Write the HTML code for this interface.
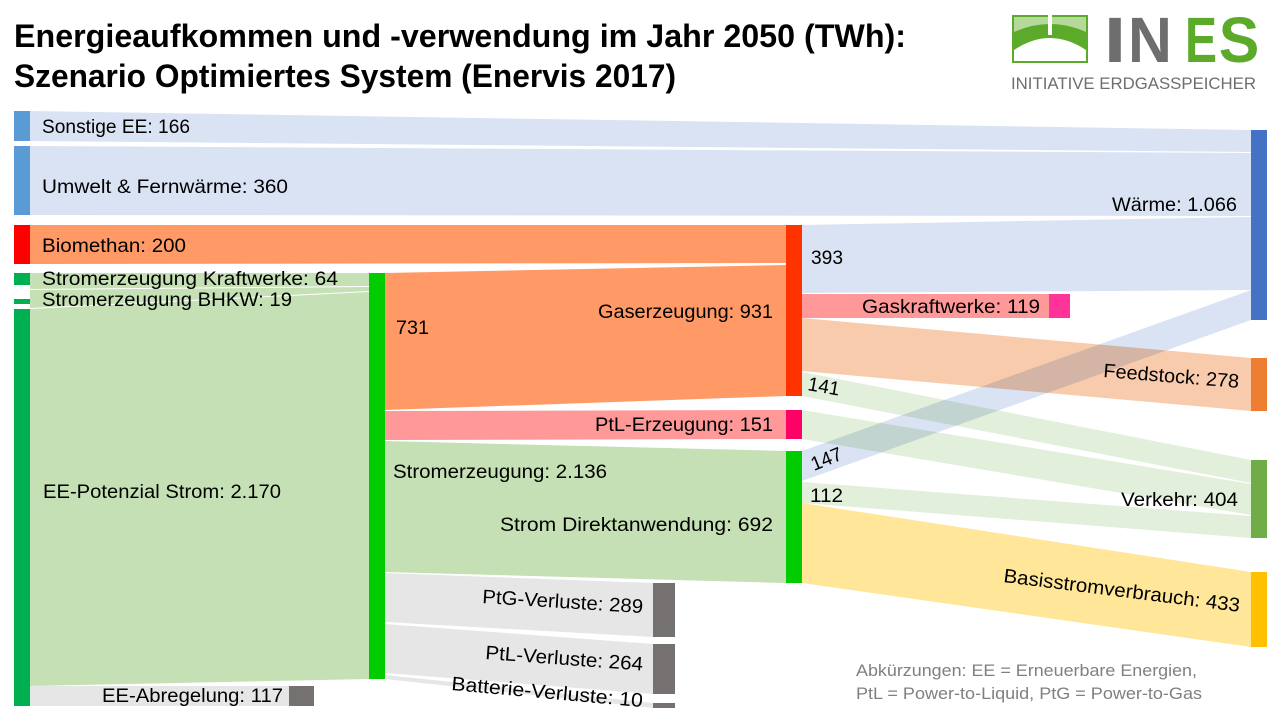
<!DOCTYPE html>
<html>
<head>
<meta charset="utf-8">
<style>
  html, body { margin:0; padding:0; background:#ffffff; }
  body { width:1280px; height:720px; overflow:hidden; }
  svg { display:block; }
  text { font-family:"Liberation Sans", "DejaVu Sans", sans-serif; }
</style>
</head>
<body>
<svg width="1280" height="720" viewBox="0 0 1280 720" xmlns="http://www.w3.org/2000/svg">
  <rect x="0" y="0" width="1280" height="720" fill="#ffffff"/>

  <!-- Title -->
  <text x="14" y="47" font-size="32" font-weight="bold" fill="#000" textLength="892" lengthAdjust="spacingAndGlyphs">Energieaufkommen und -verwendung im Jahr 2050 (TWh):</text>
  <text x="14" y="87" font-size="32" font-weight="bold" fill="#000" textLength="662" lengthAdjust="spacingAndGlyphs">Szenario Optimiertes System (Enervis 2017)</text>

  <!-- Logo -->
  <g>
    <rect x="1013" y="16" width="74" height="46" fill="#ffffff" stroke="#5BAA2A" stroke-width="2"/>
    <rect x="1014" y="17" width="72" height="20" fill="#B5D99A"/>
    <path d="M1014,32 Q1050,16 1086,32 L1086,50 Q1050,26 1014,50 Z" fill="#5BAA2A"/>
    <rect x="1048" y="15" width="4" height="20" fill="#ffffff"/>
    <text transform="translate(1115,62) scale(1.25,1)" text-anchor="middle" font-size="64" font-weight="bold" fill="#6E6E6E">I</text>
    <text transform="translate(1150,62) scale(0.95,1)" text-anchor="middle" font-size="64" font-weight="bold" fill="#6E6E6E">N</text>
    <text transform="translate(1201,62) scale(0.75,1)" text-anchor="middle" font-size="64" font-weight="bold" fill="#5BAA2A">E</text>
    <text transform="translate(1239,62) scale(0.95,1)" text-anchor="middle" font-size="64" font-weight="bold" fill="#5BAA2A">S</text>
    <text x="1011" y="89" font-size="17" fill="#6E6E6E" textLength="245" lengthAdjust="spacingAndGlyphs">INITIATIVE ERDGASSPEICHER</text>
  </g>

  <!-- Flows -->
  <!-- blue heat flows -->
  <path d="M30,111 L1251,130 L1251,152 L30,141 Z" fill="#DAE3F3"/>
  <path d="M30,146 L1251,153 L1251,216 L30,215 Z" fill="#DAE3F3"/>
  <path d="M802,225 L1251,217 L1251,290 L802,293 Z" fill="#DAE3F3"/>

  <!-- orange gas flows -->
  <path d="M30,225 L786,225 L786,263 L30,264 Z" fill="#FF9966"/>
  <path d="M385,273 L786,265 L786,396 L385,410 Z" fill="#FF9966"/>

  <!-- light green power flows -->
  <path d="M30,273 L369,273 L369,286 L30,289 Z" fill="#C5E0B4"/>
  <path d="M30,290 L369,287 L369,291 L30,308 Z" fill="#C5E0B4"/>
  <path d="M30,309 L369,292 L369,679 L30,686 Z" fill="#C5E0B4"/>
  <path d="M385,441 L786,451 L786,583 L385,572 Z" fill="#C5E0B4"/>

  <!-- grey losses -->
  <path d="M30,686 L289,686 L289,706 L30,706 Z" fill="#E7E6E6"/>
  <path d="M385,573 L653,583 L653,637 L385,622 Z" fill="#E7E6E6"/>
  <path d="M385,624 L653,644 L653,694 L385,673 Z" fill="#E7E6E6"/>
  <path d="M385,675 L653,703 L653,708 L385,679 Z" fill="#E7E6E6"/>

  <!-- pink flows -->
  <path d="M385,411 L786,410 L786,439 L385,440 Z" fill="#FF9999"/>
  <path d="M802,294 L1049,294 L1049,318 L802,318 Z" fill="#FF9999"/>

  <!-- feedstock -->
  <path d="M802,318 L1251,358 L1251,411 L802,371 Z" fill="#F8CBAD"/>

  <!-- transport (pale green) -->
  <path d="M802,372 L1251,460 L1251,483 L802,396 Z" fill="#E2EFDA"/>
  <path d="M802,410 L1251,484 L1251,515 L802,439 Z" fill="#E2EFDA"/>
  <path d="M802,482 L1251,516 L1251,538 L802,503 Z" fill="#E2EFDA"/>

  <!-- base power -->
  <path d="M802,503 L1251,572 L1251,647 L802,583 Z" fill="#FFE699"/>

  <!-- 147 power-to-heat crossing band -->
  <path d="M802,451 L1251,290 L1251,320 L802,481 Z" fill="#DAE3F3" style="mix-blend-mode:multiply"/>

  <!-- Nodes / bars -->
  <rect x="14" y="111" width="16" height="30" fill="#5B9BD5"/>
  <rect x="14" y="146" width="16" height="69" fill="#5B9BD5"/>
  <rect x="14" y="225" width="16" height="39" fill="#FF0000"/>
  <rect x="14" y="273" width="16" height="12" fill="#00B050"/>
  <rect x="14" y="299" width="16" height="5" fill="#00B050"/>
  <rect x="14" y="309" width="16" height="397" fill="#00B050"/>
  <rect x="289" y="686" width="25" height="20" fill="#767171"/>
  <rect x="369" y="273" width="16" height="406" fill="#00CC00"/>
  <rect x="786" y="225" width="16" height="171" fill="#FF3300"/>
  <rect x="786" y="410" width="16" height="29" fill="#FF0066"/>
  <rect x="786" y="451" width="16" height="132" fill="#00CC00"/>
  <rect x="653" y="583" width="22" height="54" fill="#767171"/>
  <rect x="653" y="644" width="22" height="50" fill="#767171"/>
  <rect x="653" y="703" width="22" height="5" fill="#767171"/>
  <rect x="1049" y="294" width="21" height="24" fill="#FF3399"/>
  <rect x="1251" y="130" width="16" height="190" fill="#4472C4"/>
  <rect x="1251" y="358" width="16" height="53" fill="#ED7D31"/>
  <rect x="1251" y="460" width="16" height="78" fill="#70AD47"/>
  <rect x="1251" y="572" width="16" height="75" fill="#FFC000"/>

  <!-- Labels -->
  <g font-size="19.5" fill="#000">
    <text x="42" y="133" textLength="148" lengthAdjust="spacingAndGlyphs">Sonstige EE: 166</text>
    <text x="42" y="193" textLength="246" lengthAdjust="spacingAndGlyphs">Umwelt &amp; Fernwärme: 360</text>
    <text x="42" y="252" textLength="144" lengthAdjust="spacingAndGlyphs">Biomethan: 200</text>
    <text x="42" y="285" textLength="296" lengthAdjust="spacingAndGlyphs">Stromerzeugung Kraftwerke: 64</text>
    <text x="42" y="306" textLength="250" lengthAdjust="spacingAndGlyphs">Stromerzeugung BHKW: 19</text>
    <text x="43" y="498" textLength="238" lengthAdjust="spacingAndGlyphs">EE-Potenzial Strom: 2.170</text>
    <text x="102" y="702" textLength="181" lengthAdjust="spacingAndGlyphs">EE-Abregelung: 117</text>

    <text x="396" y="334" textLength="33" lengthAdjust="spacingAndGlyphs">731</text>
    <text x="598" y="318" textLength="175" lengthAdjust="spacingAndGlyphs">Gaserzeugung: 931</text>
    <text x="595" y="431" textLength="178" lengthAdjust="spacingAndGlyphs">PtL-Erzeugung: 151</text>
    <text x="393" y="478" textLength="214" lengthAdjust="spacingAndGlyphs">Stromerzeugung: 2.136</text>
    <text x="500" y="531" textLength="273" lengthAdjust="spacingAndGlyphs">Strom Direktanwendung: 692</text>

    <text x="482" y="603" transform="rotate(3.6 482 603)" textLength="161" lengthAdjust="spacingAndGlyphs">PtG-Verluste: 289</text>
    <text x="485" y="659" transform="rotate(4.2 485 659)" textLength="158" lengthAdjust="spacingAndGlyphs">PtL-Verluste: 264</text>
    <text x="451" y="690" transform="rotate(5.1 451 690)" textLength="192" lengthAdjust="spacingAndGlyphs">Batterie-Verluste: 10</text>

    <text x="811" y="264" textLength="32" lengthAdjust="spacingAndGlyphs">393</text>
    <text x="862" y="313" textLength="178" lengthAdjust="spacingAndGlyphs">Gaskraftwerke: 119</text>
    <text x="807" y="390" transform="rotate(10 807 390)" textLength="32" lengthAdjust="spacingAndGlyphs">141</text>
    <text x="814" y="471" transform="rotate(-22 814 471)" textLength="32" lengthAdjust="spacingAndGlyphs">147</text>
    <text x="810" y="502" textLength="33" lengthAdjust="spacingAndGlyphs">112</text>

    <text x="1112" y="211" textLength="125" lengthAdjust="spacingAndGlyphs">Wärme: 1.066</text>
    <text x="1103" y="377" transform="rotate(4.6 1103 377)" textLength="136" lengthAdjust="spacingAndGlyphs">Feedstock: 278</text>
    <text x="1121" y="506" textLength="117" lengthAdjust="spacingAndGlyphs">Verkehr: 404</text>
    <text x="1003" y="582" transform="rotate(7.2 1003 582)" textLength="238" lengthAdjust="spacingAndGlyphs">Basisstromverbrauch: 433</text>
  </g>

  <!-- Note -->
  <g font-size="17" fill="#808080">
    <text x="856" y="676" textLength="341" lengthAdjust="spacingAndGlyphs">Abkürzungen: EE = Erneuerbare Energien,</text>
    <text x="856" y="699" textLength="346" lengthAdjust="spacingAndGlyphs">PtL = Power-to-Liquid, PtG = Power-to-Gas</text>
  </g>
</svg>
</body>
</html>
